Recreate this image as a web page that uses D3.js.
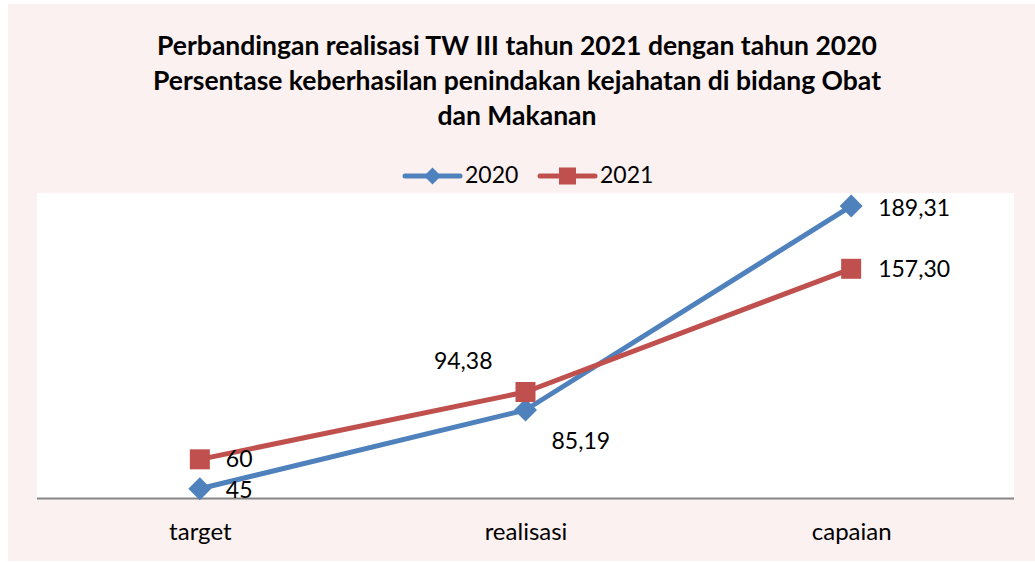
<!DOCTYPE html>
<html>
<head>
<meta charset="utf-8">
<script src="https://cdn.jsdelivr.net/npm/d3@7"></script>
<style>
  html, body { margin: 0; padding: 0; background: #ffffff; }
  svg { display: block; }
  text { font-family: Lato, "Open Sans", sans-serif; fill: #000; }
</style>
</head>
<body>
<svg id="chart" width="1035" height="562"></svg>
<script>
// Chart data
const titleLines = [
  "Perbandingan realisasi TW III tahun 2021 dengan tahun 2020",
  "Persentase keberhasilan penindakan kejahatan di bidang Obat",
  "dan Makanan"
];
const categories = ["target", "realisasi", "capaian"];
const seriesNames = ["2020", "2021"];
const values2020 = [45, 85.19, 189.31];
const values2021 = [60, 94.38, 157.30];
const yDomain = [40, 196];

// Layout
const W = 1035, H = 562;
const plot = { left: 37, right: 1014, top: 193, bottom: 498.5 };
const colors = { "2020": "#4F81BD", "2021": "#C0504D" };

const svg = d3.select("#chart");

// Outer chart area
svg.append("rect")
  .attr("x", 8).attr("y", 4)
  .attr("width", W - 8).attr("height", H - 5)
  .attr("fill", "#FBF1F0");

// Plot area
svg.append("rect")
  .attr("x", plot.left).attr("y", plot.top)
  .attr("width", plot.right - plot.left).attr("height", plot.bottom - plot.top)
  .attr("fill", "#ffffff");

const x = d3.scalePoint()
  .domain(categories)
  .range([plot.left, plot.right])
  .padding(0.5);

const y = d3.scaleLinear()
  .domain(yDomain)
  .range([plot.bottom, plot.top]);

// Title
const title = svg.append("text")
  .attr("text-anchor", "middle")
  .style("font-weight", "bold")
  .style("font-size", "26.5px");
titleLines.forEach((t, i) => {
  title.append("tspan")
    .attr("x", 517)
    .attr("y", 55 + i * 35)
    .text(t);
});

// Category axis
const xAxis = svg.append("g")
  .attr("transform", `translate(0,${plot.bottom})`)
  .call(d3.axisBottom(x).tickSize(0).tickPadding(24));
xAxis.select(".domain")
  .attr("d", `M${plot.left},0H${plot.right}`)
  .attr("stroke", "#868686")
  .attr("stroke-width", 2);
xAxis.selectAll(".tick text")
  .style("font-family", "Lato, sans-serif")
  .style("font-size", "24px")
  .attr("fill", "#000");

// Value formatting with Indonesian decimal comma
const idLocale = d3.formatLocale({ decimal: ",", thousands: ".", grouping: [3], currency: ["Rp", ""] });
const fmt = v => Number.isInteger(v) ? idLocale.format("d")(v) : idLocale.format(".2f")(v);

const series = [
  { name: "2020", values: values2020, marker: "diamond" },
  { name: "2021", values: values2021, marker: "square" }
];

// Label offsets relative to each marker: [dx, dy, anchor]
const labelOffsets = {
  "2020": [[26, 3, "start"], [26, 33, "start"], [27, 4, "start"]],
  "2021": [[26, 2, "start"], [-33, -29, "end"], [27, 2, "start"]]
};

const line = d3.line()
  .x((d, i) => x(categories[i]))
  .y(d => y(d));

function drawMarker(g, type, cx, cy, size, color) {
  if (type === "diamond") {
    const h = size / 2;
    g.append("path")
      .attr("d", `M${cx},${cy - h}L${cx + h},${cy}L${cx},${cy + h}L${cx - h},${cy}Z`)
      .attr("fill", color);
  } else {
    g.append("rect")
      .attr("x", cx - size / 2).attr("y", cy - size / 2)
      .attr("width", size).attr("height", size)
      .attr("fill", color);
  }
}

series.forEach(s => {
  const g = svg.append("g");
  g.append("path")
    .datum(s.values)
    .attr("d", line)
    .attr("fill", "none")
    .attr("stroke", colors[s.name])
    .attr("stroke-width", 5)
    .attr("stroke-linejoin", "round");
  s.values.forEach((v, i) => {
    drawMarker(g, s.marker, x(categories[i]), y(v), s.marker === "diamond" ? 23 : 20, colors[s.name]);
  });
});

// Data labels drawn after lines so they sit on top
series.forEach(s => {
  s.values.forEach((v, i) => {
    const [dx, dy, anchor] = labelOffsets[s.name][i];
    svg.append("text")
      .attr("x", x(categories[i]) + dx)
      .attr("y", y(v) + dy)
      .attr("text-anchor", anchor)
      .attr("dominant-baseline", "middle")
      .style("font-size", "23px")
      .text(fmt(v));
  });
});

// Legend
const legend = svg.append("g").attr("transform", "translate(0,176)");
const legendItems = [
  { name: "2020", marker: "diamond", x0: 405 },
  { name: "2021", marker: "square", x0: 540 }
];
legendItems.forEach(it => {
  legend.append("line")
    .attr("x1", it.x0).attr("x2", it.x0 + 55)
    .attr("y1", 0).attr("y2", 0)
    .attr("stroke", colors[it.name])
    .attr("stroke-width", 5)
    .attr("stroke-linecap", "round");
  drawMarker(legend, it.marker, it.x0 + 27.5, 0, 17, colors[it.name]);
  legend.append("text")
    .attr("x", it.x0 + 60)
    .attr("y", 1)
    .attr("dominant-baseline", "middle")
    .style("font-size", "23px")
    .text(it.name);
});
</script>
</body>
</html>
